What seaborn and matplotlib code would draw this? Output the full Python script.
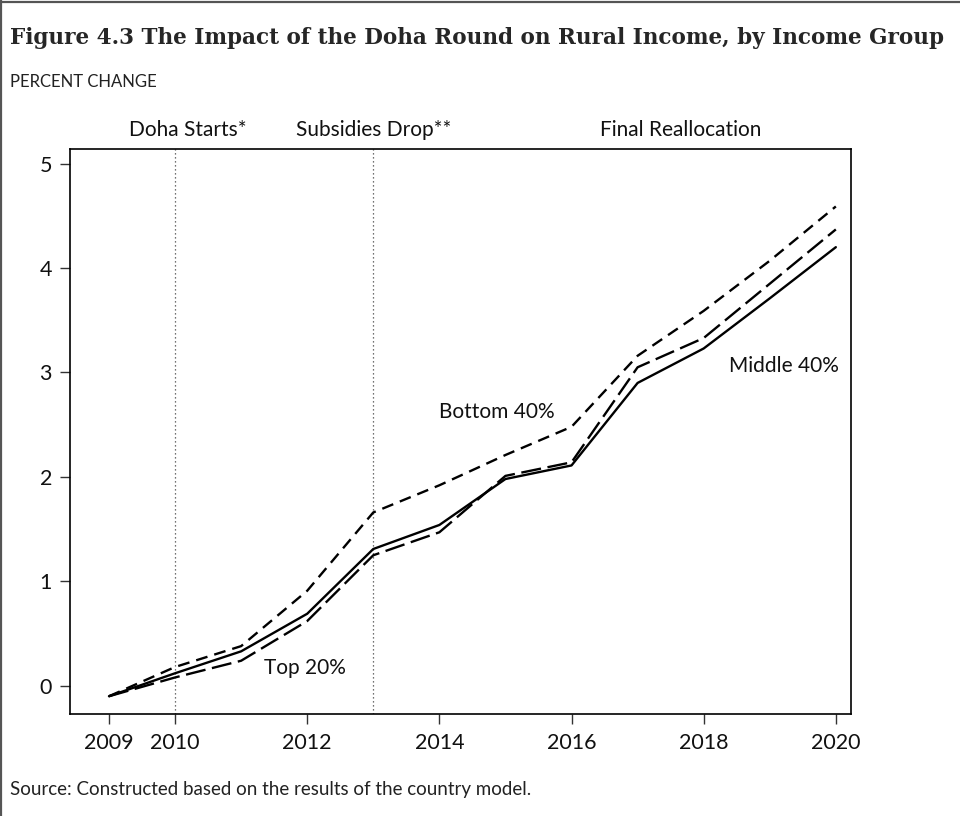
import pandas as pd
import seaborn as sns
import matplotlib.pyplot as plt
from matplotlib.lines import Line2D

# Data (percent change)
years = list(range(2009, 2021))
bottom_40 = [-0.1, 0.18, 0.38, 0.91, 1.66, 1.92, 2.21, 2.48, 3.16, 3.59, 4.07, 4.59]
middle_40 = [-0.1, 0.12, 0.33, 0.69, 1.31, 1.54, 1.98, 2.11, 2.90, 3.23, 3.71, 4.20]
top_20 = [-0.1, 0.08, 0.24, 0.62, 1.25, 1.47, 2.01, 2.14, 3.05, 3.33, 3.85, 4.37]

groups = ['Bottom 40%', 'Middle 40%', 'Top 20%']
x_ticks = [2009, 2010, 2012, 2014, 2016, 2018, 2020]
y_ticks = [0, 1, 2, 3, 4, 5]

phases = ['Doha Starts*', 'Subsidies Drop**', 'Final Reallocation']
phase_x = [2010.2, 2013.0, 2017.65]
event_years = [2010, 2013]

# long form table for seaborn
df = pd.DataFrame({
    'year': years * 3,
    'value': bottom_40 + middle_40 + top_20,
    'group': [g for g in groups for _ in years],
})

sns.set_style('white')
plt.rcParams['font.family'] = ['Lato', 'DejaVu Sans']

fig = plt.figure(figsize=(9.6, 8.16), dpi=100)
ax = fig.add_axes([0.0729, 0.125, 0.8136, 0.6924])

sns.lineplot(data=df, x='year', y='value', style='group', color='black',
             dashes={'Bottom 40%': (5, 3), 'Middle 40%': '', 'Top 20%': (8.5, 2.8)},
             linewidth=1.7, legend=False, ax=ax)

for yr in event_years:
    ax.axvline(yr, color='#444444', linestyle=(0, (1, 2.2)), linewidth=0.9, zorder=0)

ax.set_xlim(2008.41, 2020.23)
ax.set_ylim(-0.27, 5.14)
ax.set_xticks(x_ticks)
ax.set_yticks(y_ticks)
ax.set_xlabel('')
ax.set_ylabel('')
ax.tick_params(axis='both', direction='out', length=7, width=1, color='#333333',
               labelsize=15.5, labelcolor='#111111', bottom=True, left=True)
ax.tick_params(axis='x', pad=7)
ax.tick_params(axis='y', pad=6)
for s in ax.spines.values():
    s.set_color('black')
    s.set_linewidth(1.2)

# phase labels above the box
for lab, xp in zip(phases, phase_x):
    ax.text(xp, 1.034, lab, transform=ax.get_xaxis_transform(), ha='center',
            va='center', fontsize=15, color='#111111', clip_on=False)

# series labels
ax.text(2014.87, 2.62, 'Bottom 40%', ha='center', va='center', fontsize=15, color='#111111')
ax.text(2011.97, 0.17, 'Top 20%', ha='center', va='center', fontsize=15, color='#111111')
ax.text(2019.21, 3.06, 'Middle 40%', ha='center', va='center', fontsize=15, color='#111111')

# titles and source
fig.text(0.010, 1 - 38 / 816, 'Figure 4.3 The Impact of the Doha Round on Rural Income, by Income Group',
         fontsize=15.5, fontweight='bold', family='DejaVu Serif', va='center', ha='left')
fig.text(0.010, 1 - 82 / 816, 'PERCENT CHANGE', fontsize=12, va='center', ha='left', color='#222222')
fig.text(0.010, 1 - 790 / 816, 'Source: Constructed based on the results of the country model.',
         fontsize=13.5, va='center', ha='left', color='#222222')

# frame lines on top and left edge
fig.add_artist(Line2D([0, 1], [0.998, 0.998], transform=fig.transFigure, color='#555555', linewidth=1.6))
fig.add_artist(Line2D([0.0015, 0.0015], [0, 1], transform=fig.transFigure, color='#555555', linewidth=1.6))

fig.savefig('out.png', dpi=100)
